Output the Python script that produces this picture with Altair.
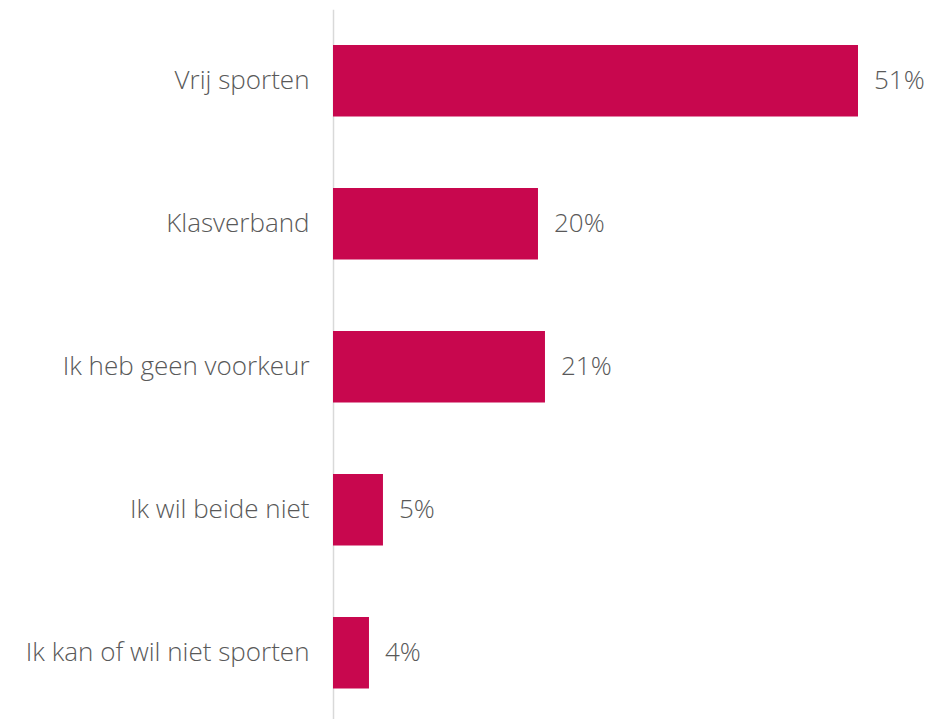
import altair as alt
import pandas as pd

categories = ["Vrij sporten", "Klasverband", "Ik heb geen voorkeur", "Ik wil beide niet", "Ik kan of wil niet sporten"]
values = [51.07, 19.94, 20.62, 4.86, 3.50]
labels = ["51%", "20%", "21%", "5%", "4%"]

df = pd.DataFrame({"cat": categories, "val": values, "label": labels})

FONT = "Open Sans"
COLOR = "#C8074E"
TEXT = "#595959"
FS = 26

y = alt.Y("cat:N", sort=categories, title=None,
          scale=alt.Scale(paddingInner=0.5, paddingOuter=0.25),
          axis=alt.Axis(domainColor="#D9D9D9", domainWidth=1.5, ticks=False,
                        labelFont=FONT, labelFontSize=FS, labelFontWeight=300,
                        labelColor=TEXT, labelPadding=24, labelLimit=400))
x = alt.X("val:Q", scale=alt.Scale(domain=[0, 57.49], nice=False, zero=True),
          axis=None)

bars = alt.Chart(df).mark_bar(color=COLOR).encode(x=x, y=y)
text = alt.Chart(df).mark_text(align="left", baseline="middle", dx=16,
                               font=FONT, fontSize=FS, fontWeight=300,
                               color=TEXT).encode(x=x, y=y, text="label:N")

chart = (bars + text).properties(
    width=591, height=715,
    padding={"left": 325, "top": 1.25, "right": 0, "bottom": 0},
    autosize=alt.AutoSizeParams(type="none"),
).configure_view(stroke=None)

chart.save("out.html", embed_options={"renderer": "svg", "actions": False})
